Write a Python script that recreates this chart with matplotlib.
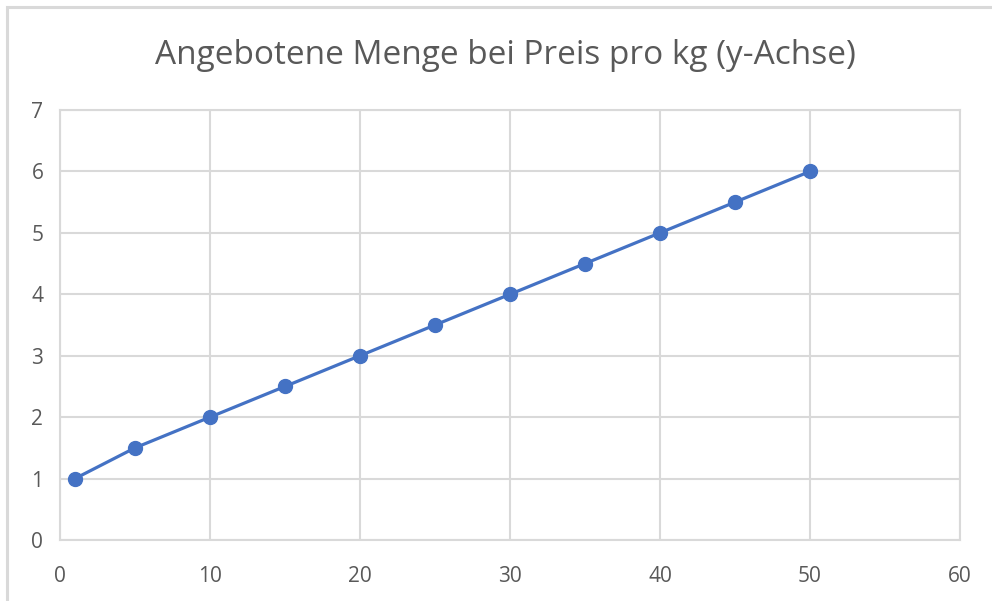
import matplotlib
matplotlib.use("Agg")
import matplotlib.pyplot as plt
from matplotlib.patches import Rectangle

title = "Angebotene Menge bei Preis pro kg (y-Achse)"
x_values = [1, 5, 10, 15, 20, 25, 30, 35, 40, 45, 50]
y_values = [1, 1.5, 2, 2.5, 3, 3.5, 4, 4.5, 5, 5.5, 6]
x_ticks = [0, 10, 20, 30, 40, 50, 60]
y_ticks = [0, 1, 2, 3, 4, 5, 6, 7]

plt.rcParams['font.family'] = ['Open Sans', 'DejaVu Sans']

W, H = 992, 601
fig = plt.figure(figsize=(W / 100, H / 100), dpi=100)
fig.patch.set_facecolor('white')

# chart-area border (cropped Excel chart)
fig.patches.append(Rectangle((7 / W, -0.1), 1.2, (H - 7) / H + 0.1,
                             transform=fig.transFigure, fill=False,
                             edgecolor='#D9D9D9', linewidth=2.2, zorder=0))

ax = fig.add_axes([60 / W, 61 / H, 900 / W, 430 / H])
grid_c = '#D9D9D9'
ax.set_xlim(0, 60)
ax.set_ylim(0, 7)
ax.set_xticks(x_ticks)
ax.set_yticks(y_ticks)
ax.grid(True, color=grid_c, linewidth=1.5)
ax.set_axisbelow(True)
for s in ax.spines.values():
    s.set_color(grid_c)
    s.set_linewidth(1.5)
ax.tick_params(length=0, colors='#595959', labelsize=15)
ax.tick_params(axis='x', pad=19)
ax.tick_params(axis='y', pad=12)

ax.plot(x_values, y_values, color='#4472C4', linewidth=2.3,
        marker='o', markersize=10, clip_on=False, zorder=3)

fig.text(505 / W, 1 - 55 / H, title, ha='center', va='center',
         fontsize=24, color='#595959')

fig.savefig('out.png', dpi=100)
